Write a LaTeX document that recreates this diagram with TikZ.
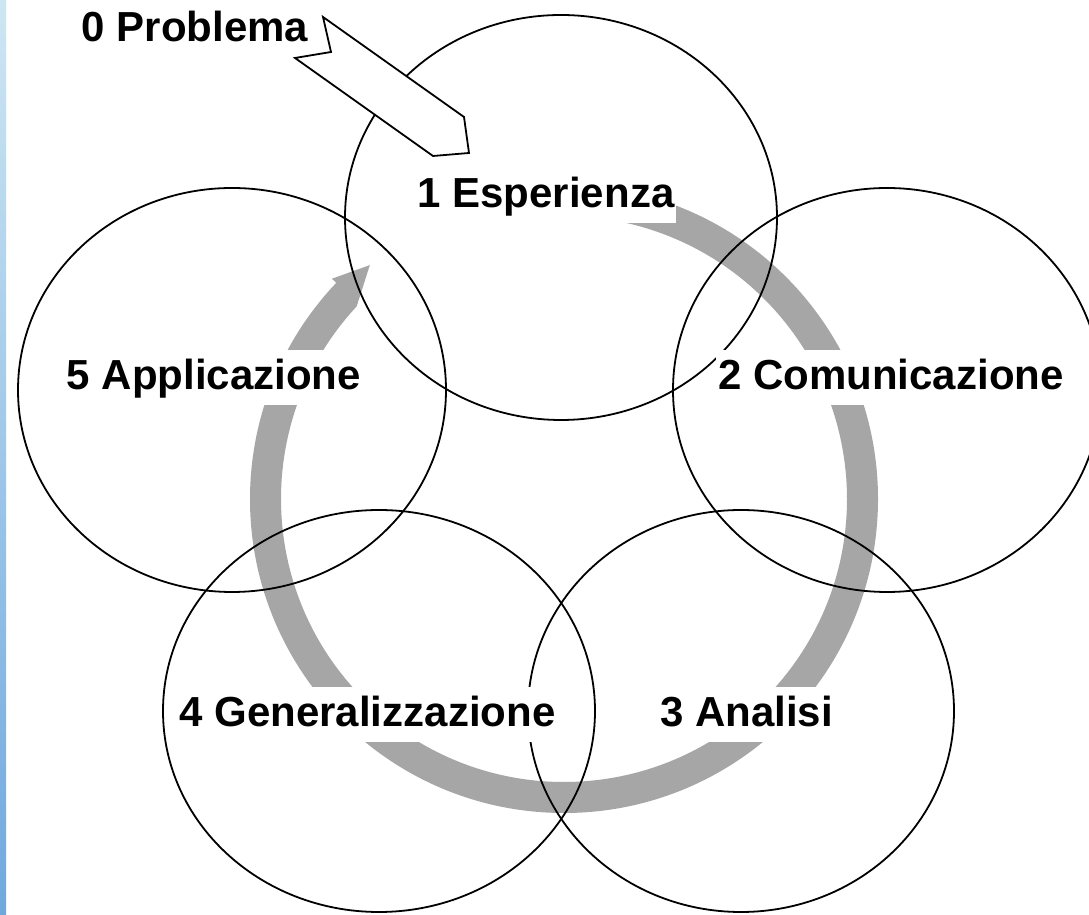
\documentclass[tikz,border=0pt]{standalone}
\usepackage{fontspec}
\setmainfont{Liberation Sans}
\definecolor{ringgray}{RGB}{166,166,166}
\definecolor{stripTop}{RGB}{205,230,243}
\definecolor{stripBot}{RGB}{112,168,222}
\begin{document}
\begin{tikzpicture}[x=1pt,y=1pt,
  circ/.style={draw=black, line width=1.8pt},
  lbl/.style={font=\bfseries\fontsize{42}{50}\selectfont, anchor=base, inner xsep=2pt, inner ysep=0pt, text height=40pt, text depth=15pt},
  lblbox/.style={lbl, fill=white},
  blockarrow/.style={draw=black, line width=1.8pt, fill=white, line join=miter}]
\useasboundingbox (0,0) rectangle (1089,915);
\fill[white] (0,0) rectangle (1089,915);
\shade[top color=stripTop, bottom color=stripBot] (0,0) rectangle (6,915);
% circular gray arrow
\fill[ringgray, shift={(564,416)}] (88:314) arc[start angle=88, end angle=-223.5, radius=314]
  -- (-223.5:320) -- (-230.3:304) -- (-222.9:283)
  arc[start angle=-222.9, end angle=88, radius=283] -- cycle;
% circles
\draw[circ] (561,697.5) ellipse [x radius=216, y radius=202.5];
\draw[circ] (232,525) ellipse [x radius=214, y radius=202];
\draw[circ] (887,525) ellipse [x radius=214, y radius=202];
\draw[circ] (379,204) ellipse [x radius=216, y radius=201];
\draw[circ] (741,204) ellipse [x radius=213, y radius=201];
% problem arrow
\draw[blockarrow] (323,898) -- (331,863) -- (295,857) -- (433,759) -- (469,762) -- (464,798) -- cycle;
% labels
\node[lbl] (p0) at (195,873) {0 Problema};
\node[lblbox] (p1) at (546,707) {1 Esperienza};
\node[lblbox] (p2) at (891,525) {2 Comunicazione};
\node[lblbox] (p3) at (746.5,188) {3 Analisi};
\node[lblbox] (p4) at (367.5,188) {4 Generalizzazione};
\node[lblbox] (p5) at (214,525) {5 Applicazione};
\end{tikzpicture}
\end{document}
